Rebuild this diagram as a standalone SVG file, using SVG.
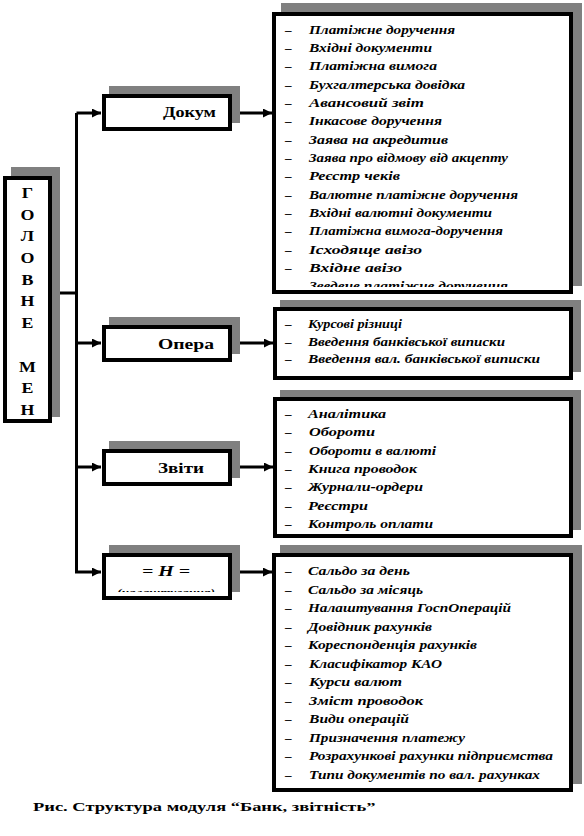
<svg xmlns="http://www.w3.org/2000/svg" width="584" height="836" viewBox="0 0 584 836">
<style>
.sh{fill:#808080}
.bx{fill:#fff;stroke:#000;stroke-width:4}
.ln{fill:none;stroke:#000;stroke-width:3}
.it{font-family:"Liberation Serif","Times New Roman",serif;font-weight:bold;font-style:italic;font-size:13px;fill:#000}
.ds{font-family:"Liberation Serif","Times New Roman",serif;font-weight:bold;font-size:13px;fill:#000}
.lb{font-family:"Liberation Serif","Times New Roman",serif;font-weight:bold;font-size:14px;fill:#000}
.lt{font-family:"Liberation Serif","Times New Roman",serif;font-weight:bold;font-size:14px;fill:#000;text-anchor:middle}
</style>
<defs>
<marker id="ah" markerUnits="userSpaceOnUse" markerWidth="9" markerHeight="9" viewBox="0 0 10 10" refX="10" refY="5" orient="auto"><path d="M0,0 L10,5 L0,10 Z" fill="#000"/></marker>
<clipPath id="c1"><rect x="276" y="16" width="293" height="271"/></clipPath>
<clipPath id="c4"><rect x="106" y="557" width="122" height="35"/></clipPath>
</defs>
<rect width="584" height="836" fill="#fff"/>

<g id="connectors">
<path class="ln" d="M52,293 H76.5"/>
<path class="ln" d="M76.5,113 V572 H101" marker-end="url(#ah)"/>
<path class="ln" d="M76.5,113 H101" marker-end="url(#ah)"/>
<path class="ln" d="M76.5,343 H101" marker-end="url(#ah)"/>
<path class="ln" d="M76.5,467 H101" marker-end="url(#ah)"/>
<path class="ln" d="M232,113 H272" marker-end="url(#ah)"/>
<path class="ln" d="M232,343 H273" marker-end="url(#ah)"/>
<path class="ln" d="M232,467 H273" marker-end="url(#ah)"/>
<path class="ln" d="M232,572 H272" marker-end="url(#ah)"/>
</g>

<g id="main">
<rect class="sh" x="11" y="167" width="49" height="250"/>
<rect class="bx" x="5" y="178" width="45" height="243"/>
<g transform="translate(27.5,0) scale(1.28,1)">
<text class="lt" x="0" y="198">Г</text>
<text class="lt" x="0" y="219.7">О</text>
<text class="lt" x="0" y="241.4">Л</text>
<text class="lt" x="0" y="263.1">О</text>
<text class="lt" x="0" y="284.8">В</text>
<text class="lt" x="0" y="306.5">Н</text>
<text class="lt" x="0" y="328.2">Е</text>
<text class="lt" x="0" y="371.6">М</text>
<text class="lt" x="0" y="393.3">Е</text>
<text class="lt" x="0" y="415">Н</text>
</g>
</g>

<g id="dokum">
<rect class="sh" x="109" y="86" width="131" height="37"/>
<rect class="bx" x="104" y="96" width="126" height="33"/>
<text class="lb" x="163" y="117" textLength="53" lengthAdjust="spacingAndGlyphs">Докум</text>
</g>

<g id="opera">
<rect class="sh" x="109" y="317" width="131" height="37"/>
<rect class="bx" x="104" y="327" width="126" height="33"/>
<text class="lb" x="158" y="349" textLength="56" lengthAdjust="spacingAndGlyphs">Опера</text>
</g>

<g id="zvity">
<rect class="sh" x="109" y="441" width="131" height="37"/>
<rect class="bx" x="104" y="451" width="126" height="33"/>
<text class="lb" x="158" y="473" textLength="46" lengthAdjust="spacingAndGlyphs">Звіти</text>
</g>

<g id="nalashtuvannia">
<rect class="sh" x="109" y="545" width="131" height="47"/>
<rect class="bx" x="104" y="555" width="126" height="43"/>
<text class="lb" style="font-style:italic" x="142" y="576" textLength="48" lengthAdjust="spacingAndGlyphs">= Н =</text>
<g clip-path="url(#c4)"><text class="it" style="font-size:11px" x="117" y="596" textLength="98" lengthAdjust="spacingAndGlyphs">(налаштування)</text></g>
</g>

<g id="list-dokum">
<rect class="sh" x="281" y="3" width="301" height="283"/>
<rect class="bx" x="274" y="14" width="297" height="278"/>
<g clip-path="url(#c1)">
<text class="ds" x="285" y="33.5">–</text><text class="it" x="309" y="33.5" textLength="146" lengthAdjust="spacingAndGlyphs">Платіжне доручення</text>
<text class="ds" x="285" y="51.9">–</text><text class="it" x="309" y="51.9" textLength="123" lengthAdjust="spacingAndGlyphs">Вхідні документи</text>
<text class="ds" x="285" y="70.2">–</text><text class="it" x="309" y="70.2" textLength="128" lengthAdjust="spacingAndGlyphs">Платіжна вимога</text>
<text class="ds" x="285" y="88.6">–</text><text class="it" x="309" y="88.6" textLength="156" lengthAdjust="spacingAndGlyphs">Бухгалтерська довідка</text>
<text class="ds" x="285" y="106.9">–</text><text class="it" x="309" y="106.9" textLength="115" lengthAdjust="spacingAndGlyphs">Авансовий звіт</text>
<text class="ds" x="285" y="125.3">–</text><text class="it" x="309" y="125.3" textLength="133" lengthAdjust="spacingAndGlyphs">Інкасове доручення</text>
<text class="ds" x="285" y="143.6">–</text><text class="it" x="309" y="143.6" textLength="139" lengthAdjust="spacingAndGlyphs">Заява на акредитив</text>
<text class="ds" x="285" y="162">–</text><text class="it" x="309" y="162" textLength="199" lengthAdjust="spacingAndGlyphs">Заява про відмову від акцепту</text>
<text class="ds" x="285" y="180.3">–</text><text class="it" x="309" y="180.3" textLength="91" lengthAdjust="spacingAndGlyphs">Реєстр чеків</text>
<text class="ds" x="285" y="198.7">–</text><text class="it" x="309" y="198.7" textLength="209" lengthAdjust="spacingAndGlyphs">Валютне платіжне доручення</text>
<text class="ds" x="285" y="217">–</text><text class="it" x="309" y="217" textLength="183" lengthAdjust="spacingAndGlyphs">Вхідні валютні документи</text>
<text class="ds" x="285" y="235.4">–</text><text class="it" x="309" y="235.4" textLength="194" lengthAdjust="spacingAndGlyphs">Платіжна вимога-доручення</text>
<text class="ds" x="285" y="253.7">–</text><text class="it" x="309" y="253.7" textLength="113" lengthAdjust="spacingAndGlyphs">Ісходяще авізо</text>
<text class="ds" x="285" y="272.1">–</text><text class="it" x="309" y="272.1" textLength="93" lengthAdjust="spacingAndGlyphs">Вхідне авізо</text>
<text class="ds" x="285" y="290.4">–</text><text class="it" x="309" y="290.4" textLength="199" lengthAdjust="spacingAndGlyphs">Зведене платіжне доручення</text>
</g>
</g>

<g id="list-opera">
<rect class="sh" x="280" y="300" width="301" height="72"/>
<rect class="bx" x="275" y="309" width="296" height="69"/>
<text class="ds" x="285" y="328">–</text><text class="it" x="308" y="328" textLength="94" lengthAdjust="spacingAndGlyphs">Курсові різниці</text>
<text class="ds" x="285" y="345.7">–</text><text class="it" x="308" y="345.7" textLength="197" lengthAdjust="spacingAndGlyphs">Введення банківської виписки</text>
<text class="ds" x="285" y="363.4">–</text><text class="it" x="308" y="363.4" textLength="232" lengthAdjust="spacingAndGlyphs">Введення вал. банківської виписки</text>
</g>

<g id="list-zvity">
<rect class="sh" x="280" y="390" width="301" height="140"/>
<rect class="bx" x="275" y="399" width="296" height="137"/>
<text class="ds" x="285" y="418">–</text><text class="it" x="308" y="418" textLength="78" lengthAdjust="spacingAndGlyphs">Аналітика</text>
<text class="ds" x="285" y="436.3">–</text><text class="it" x="309" y="436.3" textLength="66" lengthAdjust="spacingAndGlyphs">Обороти</text>
<text class="ds" x="285" y="454.6">–</text><text class="it" x="309" y="454.6" textLength="127" lengthAdjust="spacingAndGlyphs">Обороти в валюті</text>
<text class="ds" x="285" y="472.9">–</text><text class="it" x="308" y="472.9" textLength="109" lengthAdjust="spacingAndGlyphs">Книга проводок</text>
<text class="ds" x="285" y="491.2">–</text><text class="it" x="308" y="491.2" textLength="115" lengthAdjust="spacingAndGlyphs">Журнали-ордери</text>
<text class="ds" x="285" y="509.5">–</text><text class="it" x="308" y="509.5" textLength="60" lengthAdjust="spacingAndGlyphs">Реєстри</text>
<text class="ds" x="285" y="527.8">–</text><text class="it" x="308" y="527.8" textLength="125" lengthAdjust="spacingAndGlyphs">Контроль оплати</text>
</g>

<g id="list-nalashtuvannia">
<rect class="sh" x="280" y="545" width="302" height="239"/>
<rect class="bx" x="274" y="555" width="297" height="235"/>
<text class="ds" x="285" y="575">–</text><text class="it" x="308" y="575" textLength="102" lengthAdjust="spacingAndGlyphs">Сальдо за день</text>
<text class="ds" x="285" y="593.5">–</text><text class="it" x="308" y="593.5" textLength="115" lengthAdjust="spacingAndGlyphs">Сальдо за місяць</text>
<text class="ds" x="285" y="612">–</text><text class="it" x="308" y="612" textLength="203" lengthAdjust="spacingAndGlyphs">Налаштування ГоспОперацій</text>
<text class="ds" x="285" y="630.5">–</text><text class="it" x="308" y="630.5" textLength="124" lengthAdjust="spacingAndGlyphs">Довідник рахунків</text>
<text class="ds" x="285" y="649">–</text><text class="it" x="308" y="649" textLength="169" lengthAdjust="spacingAndGlyphs">Кореспонденція рахунків</text>
<text class="ds" x="285" y="667.5">–</text><text class="it" x="309" y="667.5" textLength="133" lengthAdjust="spacingAndGlyphs">Класифікатор КАО</text>
<text class="ds" x="285" y="686">–</text><text class="it" x="309" y="686" textLength="93" lengthAdjust="spacingAndGlyphs">Курси валют</text>
<text class="ds" x="285" y="704.5">–</text><text class="it" x="309" y="704.5" textLength="114" lengthAdjust="spacingAndGlyphs">Зміст проводок</text>
<text class="ds" x="285" y="723">–</text><text class="it" x="309" y="723" textLength="100" lengthAdjust="spacingAndGlyphs">Види операцій</text>
<text class="ds" x="285" y="741.5">–</text><text class="it" x="309" y="741.5" textLength="156" lengthAdjust="spacingAndGlyphs">Призначення платежу</text>
<text class="ds" x="285" y="760">–</text><text class="it" x="309" y="760" textLength="244" lengthAdjust="spacingAndGlyphs">Розрахункові рахунки підприємства</text>
<text class="ds" x="285" y="778.5">–</text><text class="it" x="309" y="778.5" textLength="231" lengthAdjust="spacingAndGlyphs">Типи документів по вал. рахунках</text>
</g>

<text class="lb" style="font-size:13px" transform="translate(33,811) scale(1.42,1)">Рис. Структура модуля “Банк, звітність”</text>
</svg>
